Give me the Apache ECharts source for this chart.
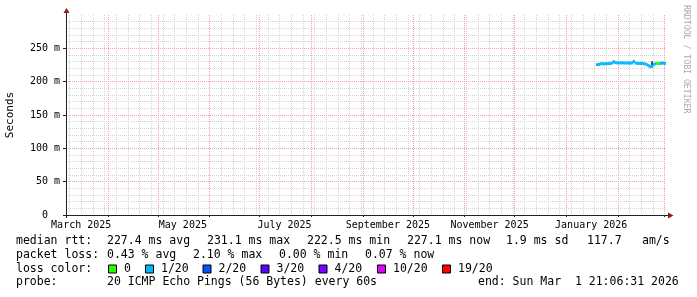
<!DOCTYPE html>
<html><head><meta charset="utf-8">
<script src="https://cdn.jsdelivr.net/npm/echarts@6/dist/echarts.min.js"></script>
<style>html,body{margin:0;padding:0;background:#fff}#c{width:697px;height:297px}</style>
</head><body><div id="c"></div>
<script>
const DAY = 86400000;
const ts = s => Date.parse(s + 'T00:00:00Z');

// time range (graph end, 360 days shown)
const END = Date.UTC(2026, 2, 1, 21, 6, 31);
const START = END - 360 * DAY;

// axis tick labels
const xLabelDates = ['2025-03-16', '2025-05-16', '2025-07-16', '2025-09-16', '2025-11-16', '2026-01-16'];
const xLabelTexts = ['March 2025', 'May 2025', 'July 2025', 'September 2025', 'November 2025', 'January 2026'];
const monthStarts = ['2025-04-01', '2025-05-01', '2025-06-01', '2025-07-01', '2025-08-01', '2025-09-01',
  '2025-10-01', '2025-11-01', '2025-12-01', '2026-01-01', '2026-02-01', '2026-03-01'];
const yTickValues = [0, 50, 100, 150, 200, 250];
const yTickLabels = ['0  ', '50 m', '100 m', '150 m', '200 m', '250 m'];
const yMajor = [50, 100, 150, 200, 250];

// data: daily median rtt (ms) and loss (pings lost of 20)
const dates = ['2026-01-19', '2026-01-20', '2026-01-21', '2026-01-22', '2026-01-23', '2026-01-24', '2026-01-25',
  '2026-01-26', '2026-01-27', '2026-01-28', '2026-01-29', '2026-01-30', '2026-01-31', '2026-02-01',
  '2026-02-02', '2026-02-03', '2026-02-04', '2026-02-05', '2026-02-06', '2026-02-07', '2026-02-08',
  '2026-02-09', '2026-02-10', '2026-02-11', '2026-02-12', '2026-02-13', '2026-02-14', '2026-02-15',
  '2026-02-16', '2026-02-17', '2026-02-18', '2026-02-19', '2026-02-20', '2026-02-21', '2026-02-22',
  '2026-02-23', '2026-02-24', '2026-02-25', '2026-02-26', '2026-02-27', '2026-02-28', '2026-03-01'];
const medianMs = [225.5, 225.8, 226.8, 227.0, 226.6, 227.0, 227.2, 227.0, 227.3, 228.0, 229.6, 228.6, 228.1, 228.3,
  228.0, 228.2, 228.0, 227.9, 228.1, 228.0, 227.8, 228.2, 230.2, 228.0, 227.4, 227.5, 227.2, 227.4,
  227.0, 226.5, 225.4, 224.0, 222.5, 223.0, 225.5, 227.0, 227.2, 227.0, 227.3, 228.0, 227.6, 227.1];
const lossCount = [1, 1, 1, 1, 1, 1, 1, 1, 1, 1, 1, 1, 1, 1,
  1, 1, 1, 1, 1, 1, 1, 1, 1, 1, 1, 1, 1, 1,
  1, 1, 1, 1, 1, 1, 1, 1, 0, 0, 1, 1, 1, 1];
const smokeLo = [224.8, null, null, null, null, null, null, null, null, null, 229.0, null, null, null,
  null, null, null, null, null, null, null, null, 229.5, null, null, null, null, null,
  null, null, null, 222.5, 221.5, 221.8, null, null, null, null, null, 227.5, null, null];
const smokeHi = [226.5, null, null, null, null, null, null, null, null, null, 231.5, null, null, null,
  null, null, null, null, null, null, null, null, 232.0, null, null, null, null, null,
  null, null, null, 224.5, 223.0, 230.8, null, null, null, null, null, 229.5, null, null];

const lossLegend = ['0', '1/20', '2/20', '3/20', '4/20', '10/20', '19/20'];
const lossThresholds = [0, 1, 2, 3, 4, 10, 19];
const lossColors = ['#26ff00', '#00b8ff', '#0059ff', '#5e00ff', '#7e00ff', '#dd00ff', '#ff0000'];

function lossColor(n) {
  let c = lossColors[0];
  lossThresholds.forEach((t, i) => { if (n >= t) c = lossColors[i]; });
  return c;
}

const medianData = dates.map((d, i) => [ts(d), medianMs[i], lossCount[i]]);
const smokeData = [];
dates.forEach((d, i) => { if (smokeLo[i] != null) smokeData.push([ts(d), smokeLo[i], smokeHi[i]]); });

const xLabelTs = xLabelDates.map(ts);
const monthTs = monthStarts.map(ts);
// minor grid: weekly (Sundays), skipping month starts; 10 m steps, skipping 50 m steps
const weekTs = [];
for (let t = ts('2025-03-09'); t <= END; t += 7 * DAY) if (monthTs.indexOf(t) < 0) weekTs.push(t);
const yMinor = [];
for (let v = 10; v < 300; v += 10) if (v % 50 !== 0) yMinor.push(v);

const MONO = 'DejaVu Sans Mono';
const GRID_C = '#d4d4d4', MGRID_C = '#f0a1a1', AXIS_C = '#222222', ARROW_C = '#8b1a1a';

const legendRows = [
  [241.5, [[16, 'median rtt:'], [107, '227.4 ms avg'], [207, '231.1 ms max'], [307, '222.5 ms min'],
    [407, '227.1 ms now'], [506, '1.9 ms sd'], [587, '117.7'], [642, 'am/s']]],
  [255, [[16, 'packet loss:'], [107, '0.43 % avg'], [193, '2.10 % max'], [279, '0.00 % min'], [365, '0.07 % now']]],
  [269, [[16, 'loss color:']]],
  [282.5, [[16, 'probe:'], [107, '20 ICMP Echo Pings (56 Bytes) every 60s'], [478, 'end: Sun Mar  1 21:06:31 2026']]]
];
const swatchX = [108.5, 145.5, 203, 261, 319, 377.5, 442.5];

const graphics = [];
legendRows.forEach(([y, items]) => items.forEach(([x, t]) => graphics.push({
  type: 'text', x: x, y: y, silent: true,
  style: { text: t, font: '11.5px "' + MONO + '"', fill: '#000', verticalAlign: 'middle', align: 'left' }
})));
lossLegend.forEach((lab, i) => {
  graphics.push({ type: 'rect', shape: { x: swatchX[i], y: 265, width: 8, height: 8 },
    style: { fill: lossColors[i], stroke: '#000', lineWidth: 1 } });
  graphics.push({ type: 'text', x: swatchX[i] + 15.5, y: 269, silent: true,
    style: { text: lab, font: '11.5px "' + MONO + '"', fill: '#000', verticalAlign: 'middle' } });
});
graphics.push({ type: 'text', x: 10, y: 115, rotation: Math.PI / 2,
  style: { text: 'Seconds', font: '11px "' + MONO + '"', fill: '#000', align: 'center', verticalAlign: 'middle' } });
graphics.push({ type: 'text', x: 686, y: 5, rotation: -Math.PI / 2,
  style: { text: 'RRDTOOL / TOBI OETIKER', font: '8.2px "' + MONO + '"', fill: '#aaaaaa', align: 'left', verticalAlign: 'middle' } });
// axis extensions and arrows
graphics.push({ type: 'line', shape: { x1: 666, y1: 215.5, x2: 669, y2: 215.5 }, style: { stroke: AXIS_C, lineWidth: 1 } });
graphics.push({ type: 'line', shape: { x1: 66.5, y1: 15, x2: 66.5, y2: 12 }, style: { stroke: AXIS_C, lineWidth: 1 } });
graphics.push({ type: 'line', shape: { x1: 66.5, y1: 215, x2: 66.5, y2: 218 }, style: { stroke: AXIS_C, lineWidth: 1 } });
graphics.push({ type: 'line', shape: { x1: 63, y1: 215.5, x2: 66, y2: 215.5 }, style: { stroke: AXIS_C, lineWidth: 1 } });
graphics.push({ type: 'polygon', shape: { points: [[668, 212.5], [673.5, 215.5], [668, 218.5]] }, style: { fill: ARROW_C } });
graphics.push({ type: 'polygon', shape: { points: [[63.5, 13], [66.5, 8], [69.5, 13]] }, style: { fill: ARROW_C } });

const chart = echarts.init(document.getElementById('c'), null, { renderer: 'canvas', width: 697, height: 297 });
chart.setOption({
  animation: false,
  backgroundColor: '#ffffff',
  grid: { left: 66, right: 31, top: 15, height: 200, containLabel: false, outerBoundsMode: 'none' },
  xAxis: [
    { type: 'value', min: START, max: END, z: 3, position: 'bottom',
      axisLine: { show: true, lineStyle: { color: AXIS_C, width: 1 } },
      axisTick: { show: false }, splitLine: { show: false },
      axisLabel: { customValues: xLabelTs, margin: 5, fontFamily: MONO, fontSize: 10, color: '#000',
        formatter: v => { const i = xLabelTs.indexOf(v); return i >= 0 ? xLabelTexts[i] : ''; } } },
    { type: 'value', min: START, max: END, z: 0, position: 'bottom',
      axisLine: { show: false }, axisLabel: { show: false },
      axisTick: { show: false, customValues: weekTs },
      splitLine: { show: true, lineStyle: { color: GRID_C, width: 1, type: [1, 1] } } },
    { type: 'value', min: START, max: END, z: 1, position: 'bottom',
      axisLine: { show: false }, axisLabel: { show: false },
      axisTick: { show: true, customValues: monthTs, length: 2, lineStyle: { color: AXIS_C } },
      splitLine: { show: true, lineStyle: { color: MGRID_C, width: 1, type: [1, 1] } } }
  ],
  yAxis: [
    { type: 'value', min: 0, max: 300, z: 0, position: 'left',
      axisLine: { show: false }, axisTick: { show: false, customValues: yMinor }, axisLabel: { show: false },
      splitLine: { show: true, lineStyle: { color: GRID_C, width: 1, type: [1, 1] } } },
    { type: 'value', min: 0, max: 300, z: 1, position: 'left',
      axisLine: { show: false },
      axisTick: { show: true, customValues: yMajor, length: 3, lineStyle: { color: AXIS_C } },
      axisLabel: { show: false },
      splitLine: { show: true, lineStyle: { color: MGRID_C, width: 1, type: [1, 1] } } },
    { type: 'value', min: 0, max: 300, z: 3, position: 'left',
      axisLine: { show: true, lineStyle: { color: AXIS_C, width: 1 } },
      axisTick: { show: false },
      axisLabel: { customValues: yTickValues, margin: 6, fontFamily: MONO, fontSize: 10, color: '#000',
        formatter: v => { const i = yTickValues.indexOf(v); return i >= 0 ? yTickLabels[i] : ''; } },
      splitLine: { show: false } }
  ],
  series: [
    { type: 'custom', name: 'smoke', xAxisIndex: 0, yAxisIndex: 0, clip: true, z: 2,
      data: smokeData, encode: { x: 0, y: [1, 2] },
      renderItem: (params, api) => {
        const t = api.value(0);
        const a = api.coord([t, api.value(2)]);
        const b = api.coord([t + DAY, api.value(1)]);
        return { type: 'rect', shape: { x: a[0], y: a[1], width: b[0] - a[0], height: b[1] - a[1] },
          style: { fill: '#2a2a2a' } };
      } },
    { type: 'custom', name: 'median', xAxisIndex: 0, yAxisIndex: 0, clip: true, z: 3,
      data: medianData, encode: { x: 0, y: 1 },
      renderItem: (params, api) => {
        const t = api.value(0), v = api.value(1), loss = api.value(2);
        const a = api.coord([t, v]);
        const b = api.coord([t + DAY, v]);
        return { type: 'rect', shape: { x: a[0], y: a[1] - 1.5, width: b[0] - a[0] + 0.3, height: 3 },
          style: { fill: lossColor(loss) } };
      } }
  ],
  graphic: graphics
});
</script>
</body></html>
